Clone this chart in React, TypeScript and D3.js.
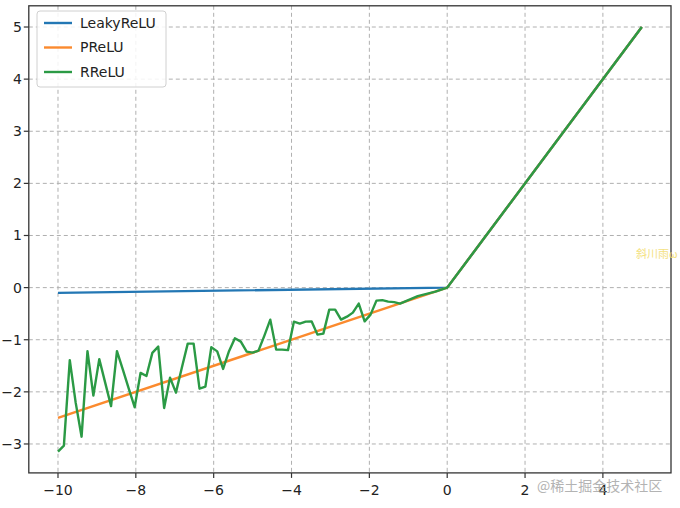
import React from "react";
import * as d3 from "d3";

// ---- data ----
const xTicks = [-10, -8, -6, -4, -2, 0, 2, 4];
const yTicks = [-3, -2, -1, 0, 1, 2, 3, 4, 5];
const leakyX = [-10, 0, 5];
const leakyY = [-0.1, 0, 5];
const preluX = [-10, 0, 5];
const preluY = [-2.5, 0, 5];
const rreluStart = -10;
const rreluEnd = 5;
const rreluCount = 100;
const rreluNeg = [
  -3.148, -3.033, -1.392, -2.207, -2.86, -1.219, -2.073, -1.372, -1.823, -2.274,
  -1.219, -1.574, -1.939, -2.294, -1.637, -1.695, -1.253, -1.132, -2.309, -1.727,
  -2.015, -1.536, -1.075, -1.075, -1.939, -1.9, -1.142, -1.223, -1.56, -1.219,
  -0.973, -1.036, -1.228, -1.248, -1.209, -0.921, -0.614, -1.19, -1.19, -1.2,
  -0.653, -0.691, -0.653, -0.647, -0.902, -0.883, -0.422, -0.422, -0.614, -0.557,
  -0.48, -0.307, -0.647, -0.518, -0.25, -0.24, -0.269, -0.278, -0.307, -0.259,
  -0.211, -0.163, -0.134, -0.106, -0.077, -0.038,
];
const rreluTailX = [0, 5];
const rreluTailY = [0, 5];
const seriesNames = ["LeakyReLU", "PReLU", "RReLU"];
const seriesColors = ["#2377b4", "#fb8a2e", "#2b9a45"];

export default function App() {
  const W = 680, H = 508;
  const x = d3.scaleLinear().domain([-10.75, 5.75]).range([28.8, 671]);
  const y = d3.scaleLinear().domain([-3.555, 5.407]).range([472.9, 5.8]);
  const line = d3.line<[number, number]>().x((d) => x(d[0])).y((d) => y(d[1]));

  const step = (rreluEnd - rreluStart) / (rreluCount - 1);
  const rreluPts: [number, number][] = rreluNeg.map((v, i) => [rreluStart + i * step, v]);
  rreluTailX.forEach((v, i) => rreluPts.push([v, rreluTailY[i]]));
  const leakyPts: [number, number][] = leakyX.map((v, i) => [v, leakyY[i]]);
  const preluPts: [number, number][] = preluX.map((v, i) => [v, preluY[i]]);
  const allSeries = [leakyPts, preluPts, rreluPts];

  const [x0, x1] = x.range();
  const [y0, y1] = y.range();
  const font = "DejaVu Sans, sans-serif";
  const fmt = (v: number) => (v < 0 ? "\u2212" + Math.abs(v) : String(v));

  return (
    <svg width={W} height={H} style={{ position: "absolute", left: 0, top: 0, background: "#fff" }}>
      <rect x={0} y={0} width={W} height={H} fill="#fff" />
      {/* grid */}
      <g stroke="#b0b0b0" strokeWidth={1} strokeDasharray="4,3">
        {xTicks.map((t) => (
          <line key={"gx" + t} x1={x(t)} x2={x(t)} y1={y1} y2={y0} />
        ))}
        {yTicks.map((t) => (
          <line key={"gy" + t} x1={x0} x2={x1} y1={y(t)} y2={y(t)} />
        ))}
      </g>
      {/* series */}
      <g fill="none" strokeWidth={2.4} strokeLinejoin="round" strokeLinecap="butt">
        {allSeries.map((pts, i) => (
          <path key={i} d={line(pts) || ""} stroke={seriesColors[i]} />
        ))}
      </g>
      {/* frame */}
      <rect x={x0} y={y1} width={x1 - x0} height={y0 - y1} fill="none" stroke="#333" strokeWidth={1.3} />
      {/* ticks */}
      <g stroke="#333" strokeWidth={1.2}>
        {xTicks.map((t) => (
          <line key={"tx" + t} x1={x(t)} x2={x(t)} y1={y0} y2={y0 + 5} />
        ))}
        {yTicks.map((t) => (
          <line key={"ty" + t} x1={x0 - 5} x2={x0} y1={y(t)} y2={y(t)} />
        ))}
      </g>
      <g fontFamily={font} fontSize={14} fill="#222">
        {xTicks.map((t) => (
          <text key={"lx" + t} x={x(t)} y={y0 + 22} textAnchor="middle">{fmt(t)}</text>
        ))}
        {yTicks.map((t) => (
          <text key={"ly" + t} x={x0 - 7} y={y(t)} dy="0.35em" textAnchor="end">{fmt(t)}</text>
        ))}
      </g>
      {/* legend */}
      <g>
        <rect x={37} y={11} width={129} height={76} rx={3} fill="#fff" fillOpacity={0.85} stroke="#d0d0d0" strokeWidth={1} />
        {seriesNames.map((n, i) => (
          <g key={n}>
            <line x1={44} x2={72} y1={23 + i * 24.5} y2={23 + i * 24.5} stroke={seriesColors[i]} strokeWidth={2.4} />
            <text x={80} y={23 + i * 24.5} dy="0.35em" fontFamily={font} fontSize={14} fill="#222">{n}</text>
          </g>
        ))}
      </g>
      {/* watermarks */}
      <text x={636} y={258} fontFamily="Noto Sans CJK SC, sans-serif" fontSize={11} fill="#f3dc6a" opacity={0.85}>斜川雨ω</text>
      <text x={537} y={491} fontFamily="Noto Sans CJK SC, sans-serif" fontSize={14} fill="#9a9a9a" opacity={0.75}>@稀土掘金技术社区</text>
    </svg>
  );
}
